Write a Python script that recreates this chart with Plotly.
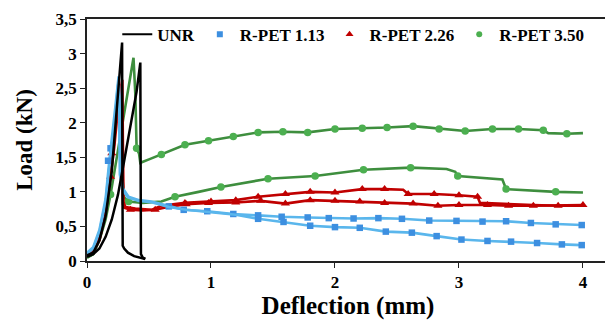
import plotly.graph_objects as go

# ---------------- data ----------------
# UNR (black) – two specimens
unr1_x = [0, 0.05, 0.10, 0.15, 0.20, 0.24, 0.27, 0.283, 0.285, 0.288, 0.30, 0.33, 0.38, 0.43, 0.47]
unr1_y = [0.08, 0.12, 0.30, 0.65, 1.30, 2.15, 2.80, 3.16, 1.60, 0.22, 0.18, 0.12, 0.07, 0.05, 0.03]
unr2_x = [0, 0.05, 0.10, 0.15, 0.20, 0.25, 0.30, 0.35, 0.40, 0.43, 0.432, 0.435, 0.45, 0.47]
unr2_y = [0.06, 0.10, 0.18, 0.35, 0.60, 0.96, 1.45, 1.95, 2.45, 2.87, 1.20, 0.10, 0.05, 0.03]

# R-PET 1.13 (blue) – two specimens
b1_x = [0, 0.05, 0.10, 0.15, 0.18, 0.20, 0.23, 0.255, 0.262, 0.27, 0.29, 0.335, 0.42, 0.52, 0.66,
        0.78, 0.97, 1.18, 1.38, 1.57, 1.78, 1.95, 2.15, 2.35, 2.54, 2.76, 2.98, 3.19, 3.38, 3.58, 3.78, 3.99]
b1_y = [0.12, 0.20, 0.45, 0.90, 1.45, 1.75, 2.25, 2.67, 2.40, 1.30, 1.05, 0.93, 0.88, 0.86, 0.79,
        0.74, 0.72, 0.68, 0.66, 0.64, 0.63, 0.62, 0.615, 0.62, 0.61, 0.585, 0.58, 0.57, 0.575, 0.55, 0.53, 0.52]
b1_mx = [0.19, 0.66, 0.78, 0.97, 1.18, 1.38, 1.57, 1.78, 1.95, 2.15, 2.35, 2.54, 2.76, 2.98, 3.19, 3.38, 3.58, 3.78, 3.99]
b1_my = [1.63, 0.79, 0.74, 0.72, 0.68, 0.66, 0.64, 0.63, 0.62, 0.615, 0.62, 0.61, 0.585, 0.58, 0.57, 0.575, 0.55, 0.53, 0.52]
b2_x = [0, 0.05, 0.10, 0.15, 0.17, 0.20, 0.23, 0.25, 0.258, 0.265, 0.29, 0.33, 0.42, 0.52, 0.66,
        0.8, 1.0, 1.2, 1.38, 1.585, 1.8, 2.0, 2.2, 2.41, 2.62, 2.82, 3.02, 3.23, 3.42, 3.63, 3.83, 3.99]
b2_y = [0.10, 0.18, 0.42, 0.85, 1.20, 1.65, 2.15, 2.55, 2.30, 1.25, 1.02, 0.92, 0.87, 0.85, 0.78,
        0.74, 0.71, 0.67, 0.61, 0.565, 0.51, 0.49, 0.48, 0.425, 0.41, 0.36, 0.31, 0.29, 0.28, 0.26, 0.24, 0.23]
b2_mx = [0.17, 1.38, 1.585, 1.8, 2.0, 2.2, 2.41, 2.62, 2.82, 3.02, 3.23, 3.42, 3.63, 3.83, 3.99]
b2_my = [1.45, 0.61, 0.565, 0.51, 0.49, 0.48, 0.425, 0.41, 0.36, 0.31, 0.29, 0.28, 0.26, 0.24, 0.23]

# R-PET 2.26 (red) – two specimens
r1_x = [0, 0.05, 0.10, 0.15, 0.18, 0.20, 0.23, 0.26, 0.285, 0.29, 0.295, 0.31, 0.39, 0.52, 0.60,
        0.79, 1.0, 1.2, 1.38, 1.6, 1.8, 2.0, 2.22, 2.4, 2.55, 2.59, 2.8, 3.0, 3.15, 3.17, 3.4, 3.6, 3.8, 4.0]
r1_y = [0.10, 0.15, 0.35, 0.75, 1.20, 1.56, 2.00, 2.40, 2.62, 1.60, 0.85, 0.78, 0.76, 0.74, 0.80,
        0.84, 0.86, 0.88, 0.93, 0.97, 1.00, 0.99, 1.04, 1.04, 1.03, 0.97, 0.97, 0.95, 0.93, 0.84, 0.82, 0.81, 0.80, 0.80]
r1_mx = [0.20, 0.79, 1.0, 1.2, 1.38, 1.6, 1.8, 2.0, 2.22, 2.4, 2.59, 2.8, 3.0, 3.15]
r1_my = [1.56, 0.84, 0.86, 0.88, 0.93, 0.97, 1.00, 0.99, 1.04, 1.04, 0.97, 0.97, 0.95, 0.93]
r2_x = [0, 0.05, 0.10, 0.15, 0.19, 0.22, 0.25, 0.27, 0.28, 0.29, 0.30, 0.35, 0.45, 0.55, 0.65,
        0.80, 0.98, 1.2, 1.4, 1.6, 1.8, 2.0, 2.2, 2.4, 2.63, 2.83, 3.0, 3.23, 3.4, 3.6, 3.8, 4.0]
r2_y = [0.08, 0.13, 0.30, 0.68, 1.22, 1.65, 2.20, 2.55, 1.50, 0.82, 0.77, 0.74, 0.73, 0.74, 0.78,
        0.82, 0.84, 0.845, 0.87, 0.83, 0.88, 0.87, 0.86, 0.84, 0.83, 0.80, 0.81, 0.81, 0.80, 0.80, 0.80, 0.81]
r2_mx = [0.19, 0.35, 0.55, 0.80, 0.98, 1.2, 1.4, 1.6, 1.8, 2.0, 2.2, 2.4, 2.63, 2.83, 3.0, 3.23, 3.4, 3.6, 3.8, 4.0]
r2_my = [1.22, 0.74, 0.74, 0.82, 0.84, 0.845, 0.87, 0.83, 0.88, 0.87, 0.86, 0.84, 0.83, 0.80, 0.81, 0.81, 0.80, 0.80, 0.80, 0.81]

# R-PET 3.50 (green) – two specimens
g1_x = [0, 0.05, 0.10, 0.15, 0.19, 0.25, 0.30, 0.34, 0.375, 0.39, 0.40, 0.42, 0.43, 0.50, 0.60,
        0.79, 0.98, 1.18, 1.38, 1.58, 1.78, 2.0, 2.22, 2.42, 2.63, 2.84, 3.05, 3.27, 3.48, 3.68, 3.72, 3.87, 4.0]
g1_y = [0.05, 0.10, 0.30, 0.60, 0.96, 1.60, 2.15, 2.60, 2.94, 2.40, 1.63, 1.55, 1.42, 1.47, 1.54,
        1.68, 1.74, 1.80, 1.86, 1.87, 1.86, 1.91, 1.92, 1.93, 1.95, 1.91, 1.88, 1.91, 1.91, 1.89, 1.85, 1.84, 1.85]
g1_mx = [0.19, 0.40, 0.60, 0.79, 0.98, 1.18, 1.38, 1.58, 1.78, 2.0, 2.22, 2.42, 2.63, 2.84, 3.05, 3.27, 3.48, 3.68, 3.87]
g1_my = [0.96, 1.63, 1.54, 1.68, 1.74, 1.80, 1.86, 1.87, 1.86, 1.91, 1.92, 1.93, 1.95, 1.91, 1.88, 1.91, 1.91, 1.89, 1.84]
g2_x = [0, 0.05, 0.10, 0.15, 0.20, 0.24, 0.26, 0.28, 0.30, 0.335, 0.45, 0.60, 0.71, 0.9, 1.08,
        1.46, 1.84, 2.23, 2.61, 2.9, 2.97, 2.99, 3.23, 3.35, 3.38, 3.78, 4.0]
g2_y = [0.05, 0.10, 0.35, 0.80, 1.50, 2.20, 2.50, 1.30, 0.92, 0.86, 0.84, 0.86, 0.93, 1.00, 1.07,
        1.19, 1.23, 1.32, 1.35, 1.33, 1.29, 1.23, 1.20, 1.18, 1.04, 1.00, 0.99]
g2_mx = [0.335, 0.71, 1.08, 1.46, 1.84, 2.23, 2.61, 2.99, 3.38, 3.78]
g2_my = [0.86, 0.93, 1.07, 1.19, 1.23, 1.32, 1.35, 1.23, 1.04, 1.00]

series_names = ["UNR", "R-PET 1.13", "R-PET 2.26", "R-PET 3.50"]

# ---------------- styles ----------------
FONT = "Liberation Serif"
BLACK = "#000000"
BLUE_L, BLUE_M = "#5ab6ec", "#3d8fe0"
RED_L, RED_M = "#c00000", "#c00000"
GREEN_L, GREEN_M = "#3e8e3e", "#4caf50"

fig = go.Figure()


def add_curve(x, y, mx, my, lcolor, mcolor, symbol, msize, width=2.6):
    fig.add_trace(go.Scatter(x=x, y=y, mode="lines", line=dict(color=lcolor, width=width),
                             showlegend=False, hoverinfo="skip"))
    if mx:
        fig.add_trace(go.Scatter(x=mx, y=my, mode="markers",
                                 marker=dict(color=mcolor, symbol=symbol, size=msize),
                                 showlegend=False, hoverinfo="skip"))


# green (bottom), red, blue, black (top)
add_curve(g1_x, g1_y, g1_mx, g1_my, GREEN_L, GREEN_M, "circle", 7.5)
add_curve(g2_x, g2_y, g2_mx, g2_my, GREEN_L, GREEN_M, "circle", 7.5)
add_curve(r1_x, r1_y, r1_mx, r1_my, RED_L, RED_M, "triangle-up", 8)
add_curve(r2_x, r2_y, r2_mx, r2_my, RED_L, RED_M, "triangle-up", 8)
add_curve(b1_x, b1_y, b1_mx, b1_my, BLUE_L, BLUE_M, "square", 6.5)
add_curve(b2_x, b2_y, b2_mx, b2_my, BLUE_L, BLUE_M, "square", 6.5)
add_curve(unr1_x, unr1_y, None, None, BLACK, BLACK, "circle", 0, width=2.5)
add_curve(unr2_x, unr2_y, None, None, BLACK, BLACK, "circle", 0, width=2.5)

# legend entries
fig.add_trace(go.Scatter(x=[None], y=[None], mode="lines", name=series_names[0],
                         line=dict(color=BLACK, width=2)))
fig.add_trace(go.Scatter(x=[None], y=[None], mode="markers", name=series_names[1],
                         marker=dict(color=BLUE_M, symbol="square", size=6)))
fig.add_trace(go.Scatter(x=[None], y=[None], mode="markers", name=series_names[2],
                         marker=dict(color=RED_M, symbol="triangle-up", size=7)))
fig.add_trace(go.Scatter(x=[None], y=[None], mode="markers", name=series_names[3],
                         marker=dict(color=GREEN_M, symbol="circle", size=6)))

axis_common = dict(showline=True, linecolor="#222222", linewidth=1.5, mirror=True,
                   ticks="outside", ticklen=5, tickcolor="#222222", showgrid=False, zeroline=False,
                   automargin=False,
                   tickfont=dict(family=FONT, size=17, color="black", weight="bold"))

# the page body adds an 8px offset, so the figure is 8px smaller than the window
fig.update_layout(
    width=605, height=313,
    margin=dict(l=79, r=4, t=11, b=60, autoexpand=False),
    paper_bgcolor="white", plot_bgcolor="white",
    separators=", ",
    font=dict(family=FONT, color="black"),
    xaxis=dict(range=[0, 4.21], dtick=1, tick0=0,
               title=dict(text="Deflection (mm)", font=dict(family=FONT, size=25, weight="bold"), standoff=5),
               **axis_common),
    yaxis=dict(range=[0, 3.5], dtick=0.5, tick0=0,
               title=dict(text="Load (kN)", font=dict(family=FONT, size=23, weight="bold"), standoff=17),
               **axis_common),
    legend=dict(orientation="h", x=0.058, y=0.935, xanchor="left", yanchor="middle",
                font=dict(family=FONT, size=17, weight="bold"), bgcolor="rgba(0,0,0,0)",
                itemwidth=30, traceorder="normal", tracegroupgap=0),
    showlegend=True,
)

fig.write_html("out.html")
